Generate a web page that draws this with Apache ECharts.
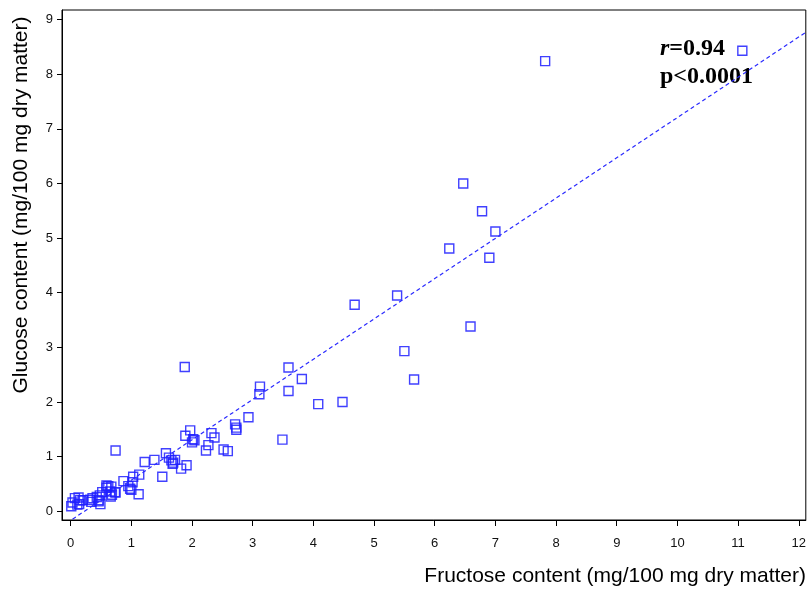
<!DOCTYPE html>
<html>
<head>
<meta charset="utf-8">
<script src="https://cdn.jsdelivr.net/npm/echarts@6/dist/echarts.min.js"></script>
<style>html,body{margin:0;padding:0;background:#fff}#c{width:809px;height:592px}</style>
</head>
<body>
<div id="c"></div>
<script>
// Fructose (x) vs glucose (y), mg/100 mg dry matter
const fructose = [
  0.01,0.03,0.07,0.13,0.14,0.15,0.11,0.20,0.32,0.36,0.34,0.43,0.46,0.48,0.49,0.52,0.46,
  0.59,0.62,0.67,0.59,0.65,0.68,0.66,0.73,0.74,0.87,0.95,0.98,1.00,1.02,1.03,1.12,1.13,0.74,
  1.22,1.38,1.51,1.57,1.62,1.66,1.69,1.72,1.68,1.82,1.91,1.88,1.97,1.89,2.02,2.00,2.04,
  2.32,2.37,2.27,2.23,2.52,2.59,2.71,2.73,2.73,2.93,3.12,3.11,3.49,3.59,3.59,3.81,4.08,4.48,
  4.68,5.38,5.50,5.66,6.59,6.24,6.90,7.00,6.78,6.47,7.82,11.07
];
const glucose = [
  0.09,0.16,0.24,0.25,0.13,0.20,0.12,0.20,0.21,0.24,0.17,0.26,0.20,0.29,0.13,0.35,0.18,
  0.47,0.46,0.45,0.43,0.36,0.30,0.27,0.35,0.34,0.55,0.46,0.41,0.39,0.53,0.63,0.31,0.67,1.11,
  0.90,0.94,0.63,1.06,0.98,0.93,0.89,0.94,0.87,0.78,0.84,2.64,1.48,1.38,1.32,1.26,1.30,
  1.43,1.35,1.21,1.11,1.13,1.10,1.59,1.53,1.49,1.72,2.28,2.14,1.31,2.63,2.20,2.42,1.96,2.00,
  3.78,3.95,2.93,2.41,3.38,4.81,4.64,5.12,5.49,6.00,8.24,8.43
];
// regression line end points
const fitX = [0.03, 12.12];
const fitY = [-0.145, 8.77];
const xTicks = [0,1,2,3,4,5,6,7,8,9,10,11,12];
const yTicks = [0,1,2,3,4,5,6,7,8,9];
const xTitle = 'Fructose content (mg/100 mg dry matter)';
const yTitle = 'Glucose content (mg/100 mg dry matter)';
const statR = '0.94';
const statP = 'p<0.0001';

const points = fructose.map((x, i) => [x, glucose[i]]);
const fit = fitX.map((x, i) => [x, fitY[i]]);

const chart = echarts.init(document.getElementById('c'), null, {renderer: 'canvas'});
const axisCommon = {
  type: 'value',
  splitLine: {show: false},
  axisLine: {show: true, onZero: false, lineStyle: {color: '#000', width: 1}},
  axisTick: {show: true, length: 6, lineStyle: {color: '#000', width: 1}},
  axisLabel: {color: '#111', fontFamily: 'Liberation Sans', fontSize: 13}
};
chart.setOption({
  animation: false,
  backgroundColor: '#fff',
  grid: {left: 62, top: 10, width: 744, height: 510, show: true, borderColor: '#000', borderWidth: 1, backgroundColor: 'transparent'},
  xAxis: Object.assign({}, axisCommon, {
    min: -0.143, max: 12.116,
    axisTick: Object.assign({}, axisCommon.axisTick, {customValues: xTicks}),
    axisLabel: Object.assign({}, axisCommon.axisLabel, {customValues: xTicks, margin: 17, formatter: v => String(Math.round(v))})
  }),
  yAxis: Object.assign({}, axisCommon, {
    min: -0.161, max: 9.175,
    axisTick: Object.assign({}, axisCommon.axisTick, {length: 5, customValues: yTicks}),
    axisLabel: Object.assign({}, axisCommon.axisLabel, {customValues: yTicks, margin: 9, formatter: v => String(Math.round(v))})
  }),
  series: [
    {
      type: 'line', data: fit, symbol: 'none', clip: true, silent: true,
      lineStyle: {color: '#2a2aff', width: 1.2, type: [4, 3]}
    },
    {
      type: 'scatter', data: points, symbol: 'rect', symbolSize: 9,
      itemStyle: {color: 'rgba(0,0,0,0)', borderColor: '#1f1fff', borderWidth: 1.4, opacity: 0.85}
    }
  ],
  graphic: [
    {type: 'text', left: 660, top: 37, style: {
      text: '{i|r}{b|=' + statR + '}',
      rich: {
        i: {fontFamily: 'Liberation Serif', fontStyle: 'italic', fontWeight: 'bold', fontSize: 24, fill: '#000'},
        b: {fontFamily: 'Liberation Serif', fontWeight: 'bold', fontSize: 24, fill: '#000'}
      }}},
    {type: 'text', left: 660, top: 65, style: {
      text: statP, font: 'bold 24px "Liberation Serif"', fill: '#000'}},
    {type: 'text', right: 3, top: 566, style: {
      text: xTitle, font: '21px "Liberation Sans"', fill: '#000'}},
    {type: 'text', x: 11, y: 205, rotation: Math.PI / 2, style: {
      text: yTitle, font: '21px "Liberation Sans"', fill: '#000', align: 'center', verticalAlign: 'top'}}
  ]
});
</script>
</body>
</html>
